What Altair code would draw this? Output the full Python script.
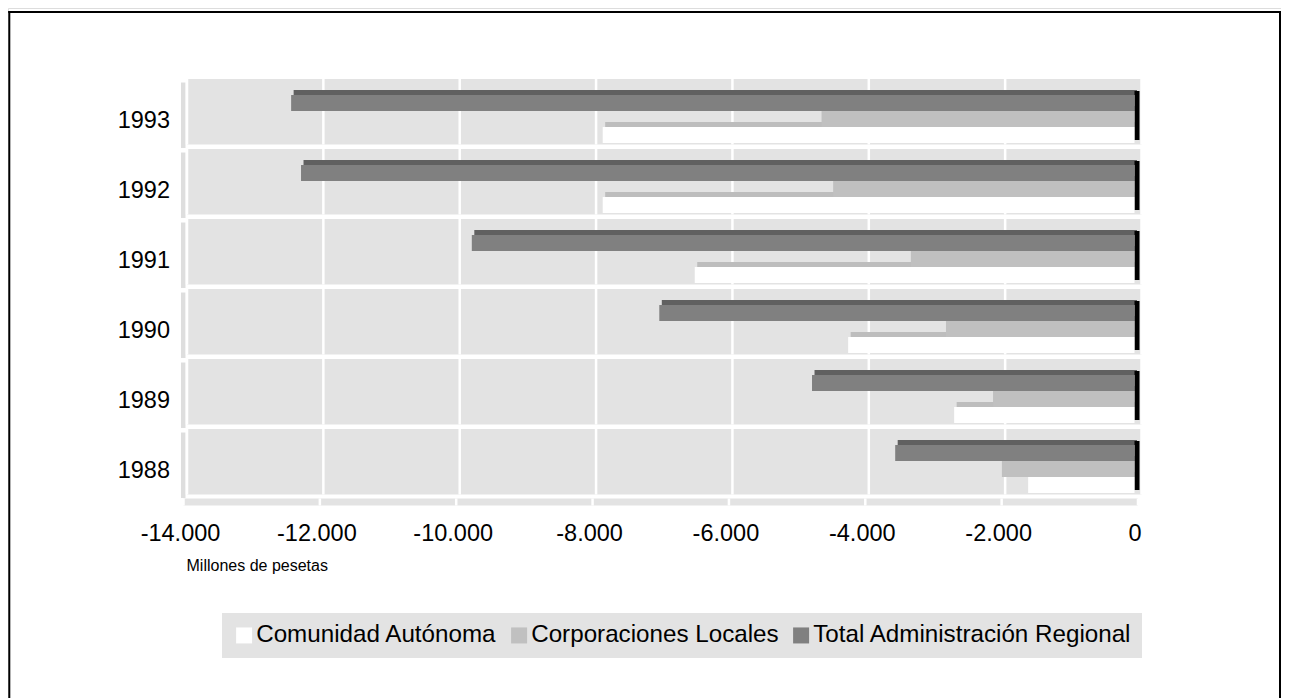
import altair as alt
import pandas as pd

# ---- data ----
years = ["1988", "1989", "1990", "1991", "1992", "1993"]
comunidad = [-1560, -2645, -4200, -6450, -7800, -7800]
corporaciones = [-1945, -2075, -2765, -3280, -4420, -4590]
total = [-3510, -4730, -6970, -9720, -12225, -12370]
series_names = ["Comunidad Autónoma", "Corporaciones Locales", "Total Administración Regional"]
series_colors = ["#ffffff", "#c0c0c0", "#808080"]
top_colors = ["#bdbdbd", "#a6a6a6", "#606060"]
x_ticks = [-14000, -12000, -10000, -8000, -6000, -4000, -2000, 0]
axis_title = "Millones de pesetas"

rows = []
for name, vals in zip(series_names, [comunidad, corporaciones, total]):
    for y, v in zip(years, vals):
        rows.append({"year": y, "series": name, "value": v})
bars = pd.DataFrame(rows)
year_df = pd.DataFrame({"year": years})
grid_df = pd.DataFrame([{"year": y, "tick": t} for y in years for t in x_ticks])
frame_df = pd.DataFrame({"k": [0]})

FONT = "Liberation Sans"
W, H = 1273, 692

xscale = alt.Scale(domain=[-14000, 0], range=[172, 1126.5], nice=False, zero=False)
xaxis = alt.Axis(
    values=x_ticks,
    labelExpr="(datum.value < 0 ? '-' : '') + replace(format(abs(datum.value), ','), ',', '.')",
    orient="bottom", offset=532 - H, domain=False, ticks=False, tickSize=0, grid=False,
    labelPadding=0, labelBaseline="alphabetic", labelFontSize=23.5, labelColor="black",
    labelFont=FONT, labelFlush=False, labelOverlap=False,
    title=axis_title, titleFont=FONT, titleFontSize=16, titleFontWeight="normal",
    titleColor="black", titleAlign="left", titleAnchor="start", titleX=178, titleY=30,
    titleBaseline="alphabetic",
)
yscale = alt.Scale(domain=years[::-1], range=[76, 496], paddingInner=22 / 70, paddingOuter=11 / 70)
yaxis = alt.Axis(orient="left", offset=-161.5, domain=False, ticks=False, tickSize=0,
                 labelPadding=0, labelFontSize=23.5, labelColor="black", labelFont=FONT,
                 grid=False, labelAngle=0, labelOffset=1.5)
Y = alt.Y("year:O", scale=yscale, axis=yaxis, title=None)


def xd(v):
    return alt.XDatum(v, type="quantitative", scale=xscale, axis=xaxis)


# back wall panels (one per category band)
panel = alt.Chart(year_df).mark_rect(color="#e3e3e3", height=65.5, yOffset=-7.25,
                                     xOffset=7, x2Offset=7).encode(
    x=xd(-14000), x2=alt.X2Datum(0), y=Y)
# left side wall
wall = alt.Chart(year_df).mark_rect(color="#dedede", height=65.5, yOffset=-3.75,
                                    xOffset=1, x2Offset=5.5).encode(
    x=xd(-14000), x2=alt.X2Datum(-14000), y=Y)
# white gridlines on the back wall
grid = alt.Chart(grid_df).mark_rect(color="white", height=65.5, yOffset=-7.25,
                                    xOffset=5.75, x2Offset=8.25).encode(
    x=alt.X("tick:Q", scale=xscale, axis=xaxis), x2=alt.X2("tick:Q"), y=Y)
# floor
floor = alt.Chart(year_df).transform_filter(
    alt.FieldEqualPredicate(field="year", equal="1988")
).mark_rect(color="#e3e3e3", height=7, yOffset=33, xOffset=3.5, x2Offset=3.5).encode(
    x=xd(-14000), x2=alt.X2Datum(0), y=Y)
floor_grid = alt.Chart(grid_df).transform_filter(
    alt.FieldEqualPredicate(field="year", equal="1988")
).mark_rect(color="white", height=7, yOffset=33, xOffset=2.25, x2Offset=4.75).encode(
    x=alt.X("tick:Q", scale=xscale, axis=xaxis), x2=alt.X2("tick:Q"), y=Y)

front_offsets = {series_names[0]: 16, series_names[1]: 0, series_names[2]: -16}
top_offsets = {series_names[0]: 5.5, series_names[1]: -10.5, series_names[2]: -26.5}

tops = []
for name, col in zip(series_names, top_colors):
    tops.append(
        alt.Chart(bars).transform_filter(alt.FieldEqualPredicate(field="series", equal=name))
        .mark_rect(color=col, height=5, yOffset=top_offsets[name], xOffset=2.5, x2Offset=2.5)
        .encode(x=alt.X("value:Q", scale=xscale, axis=xaxis), x2=alt.X2Datum(0), y=Y)
    )

sides = alt.Chart(bars).transform_filter(
    alt.FieldEqualPredicate(field="series", equal=series_names[2])
).mark_rect(color="black", height=49, yOffset=-3.5, x2Offset=5).encode(
    x=xd(0), x2=alt.X2Datum(0), y=Y)

legend = alt.Legend(
    title=None, orient="none", legendX=214, legendY=605, direction="horizontal",
    fillColor="#e3e3e3", padding=10, symbolType="square", symbolSize=256,
    symbolStrokeWidth=0, symbolOpacity=1, labelFontSize=24.2, labelFont=FONT,
    labelColor="black", labelOffset=0, columnPadding=10, labelLimit=1000,
)
color = alt.Color("series:N", scale=alt.Scale(domain=series_names, range=series_colors),
                  legend=legend)

fronts = []
for name in [series_names[2], series_names[1], series_names[0]]:
    fronts.append(
        alt.Chart(bars).transform_filter(alt.FieldEqualPredicate(field="series", equal=name))
        .mark_rect(height=16, yOffset=front_offsets[name], opacity=1)
        .encode(x=alt.X("value:Q", scale=xscale, axis=xaxis), x2=alt.X2Datum(0), y=Y,
                color=color)
    )

# outer frame: top, left and right edges (bottom edge lies below the window)
frame_top = alt.Chart(frame_df).mark_rule(color="black", strokeWidth=2).encode(
    x=alt.value(0.3), x2=alt.value(1273), y=alt.value(4))
frame_left = alt.Chart(frame_df).mark_rule(color="black", strokeWidth=2).encode(
    x=alt.value(1.3), y=alt.value(3), y2=alt.value(H))
frame_right = alt.Chart(frame_df).mark_rule(color="black", strokeWidth=2).encode(
    x=alt.value(1272), y=alt.value(3), y2=alt.value(H))

chart = alt.layer(
    panel, wall, grid, floor, floor_grid, *tops, sides, *fronts,
    frame_top, frame_left, frame_right
).properties(
    width=W, height=H, autosize="none", padding=0
).configure_view(strokeWidth=0).configure(font=FONT)

chart.save("out.html", embed_options={"renderer": "svg", "actions": False})
